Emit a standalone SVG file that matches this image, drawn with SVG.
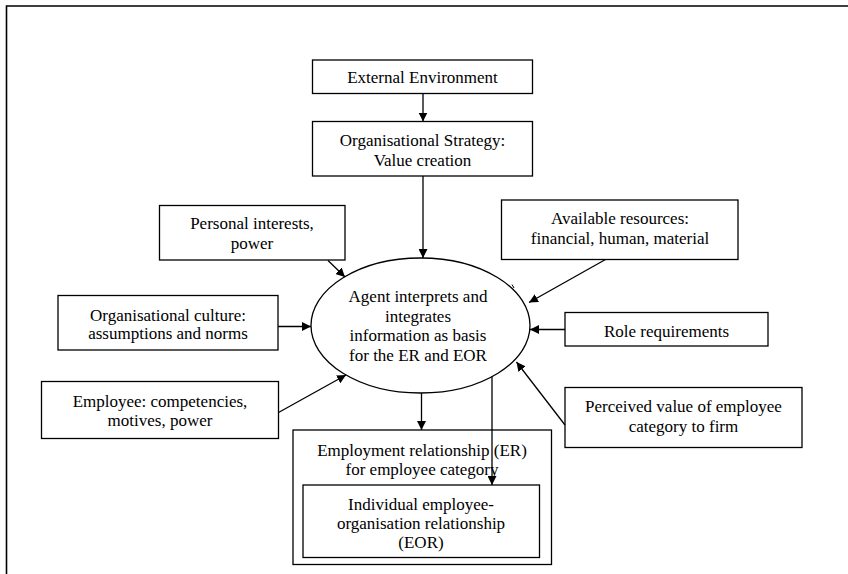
<svg xmlns="http://www.w3.org/2000/svg" width="848" height="574" viewBox="0 0 848 574">
  <style>
    .box { fill: #fff; stroke: #000; stroke-width: 1.3; }
    .frame { fill: none; stroke: #000; stroke-width: 1.6; }
    text { font-family: "Liberation Serif", "DejaVu Serif", serif; font-size: 17px; fill: #000; text-anchor: middle; }
    .edge { fill: none; stroke: #000; stroke-width: 1.3; marker-end: url(#arrow); }
  </style>
  <defs>
    <marker id="arrow" viewBox="0 0 10 10" refX="10" refY="5" markerWidth="9" markerHeight="9" markerUnits="userSpaceOnUse" orient="auto">
      <path d="M0,0 L10,5 L0,10 Z" fill="#000"/>
    </marker>
  </defs>

  <rect x="0" y="0" width="848" height="574" fill="#fff"/>
  <!-- page frame: left and top edges -->
  <polyline class="frame" points="6.5,574 6.5,6 848,6"/>

  <g id="external-environment">
    <rect class="box" x="312.5" y="60" width="220" height="33.5"/>
    <text x="422.5" y="83">External Environment</text>
  </g>

  <g id="organisational-strategy">
    <rect class="box" x="312.5" y="121.5" width="220" height="54.5"/>
    <text x="422.5" y="145.5">Organisational Strategy:</text>
    <text x="422.5" y="165.5">Value creation</text>
  </g>

  <g id="personal-interests">
    <rect class="box" x="159.5" y="205.5" width="185.5" height="54.5"/>
    <text x="252" y="229">Personal interests,</text>
    <text x="252" y="248.5">power</text>
  </g>

  <g id="available-resources">
    <rect class="box" x="501.5" y="200" width="236.5" height="59.5"/>
    <text x="620" y="224">Available resources:</text>
    <text x="620" y="243.5">financial, human, material</text>
  </g>

  <g id="organisational-culture">
    <rect class="box" x="58" y="295.5" width="220" height="54.5"/>
    <text x="168" y="320.5">Organisational culture:</text>
    <text x="168" y="339">assumptions and norms</text>
  </g>

  <g id="agent">
    <ellipse class="box" cx="420.5" cy="325.5" rx="109.5" ry="67.5"/>
    <line x1="512" y1="284.5" x2="514" y2="288" stroke="#000" stroke-width="1"/>
    <text x="418" y="301.5">Agent interprets and</text>
    <text x="418" y="321.5">integrates</text>
    <text x="418" y="341">information as basis</text>
    <text x="418" y="360.5">for the ER and EOR</text>
  </g>

  <g id="role-requirements">
    <rect class="box" x="565" y="312.5" width="203" height="33.5"/>
    <text x="666.5" y="336.5">Role requirements</text>
  </g>

  <g id="employee">
    <rect class="box" x="41.5" y="381.5" width="237" height="57"/>
    <text x="160" y="407">Employee: competencies,</text>
    <text x="160" y="426">motives, power</text>
  </g>

  <g id="perceived-value">
    <rect class="box" x="565" y="387.5" width="237" height="60"/>
    <text x="683.5" y="412">Perceived value of employee</text>
    <text x="683.5" y="431.5">category to firm</text>
  </g>

  <g id="employment-relationship">
    <rect class="box" x="293" y="430" width="258.5" height="134.5"/>
    <text x="422" y="455.5">Employment relationship (ER)</text>
    <text x="422" y="475">for employee category</text>
  </g>

  <g id="individual-eor">
    <rect class="box" x="303" y="485" width="236.5" height="72.5"/>
    <text x="421" y="509.5">Individual employee-</text>
    <text x="421" y="528.5">organisation relationship</text>
    <text x="421" y="548">(EOR)</text>
  </g>

  <g id="connectors">
    <line class="edge" x1="423" y1="93.5" x2="423" y2="121.5"/>
    <line class="edge" x1="423" y1="176" x2="423" y2="258"/>
    <line class="edge" x1="328" y1="260.5" x2="345" y2="277"/>
    <line class="edge" x1="605.5" y1="259.5" x2="529" y2="302.5"/>
    <line class="edge" x1="278" y1="326.5" x2="311" y2="326.5"/>
    <line class="edge" x1="565" y1="329.5" x2="530" y2="329.5"/>
    <line class="edge" x1="278.5" y1="412.5" x2="346" y2="375"/>
    <line class="edge" x1="565" y1="425" x2="516.5" y2="362"/>
    <line class="edge" x1="421.5" y1="393" x2="421.5" y2="430"/>
    <line class="edge" x1="492" y1="376.5" x2="492" y2="485"/>
  </g>
</svg>
